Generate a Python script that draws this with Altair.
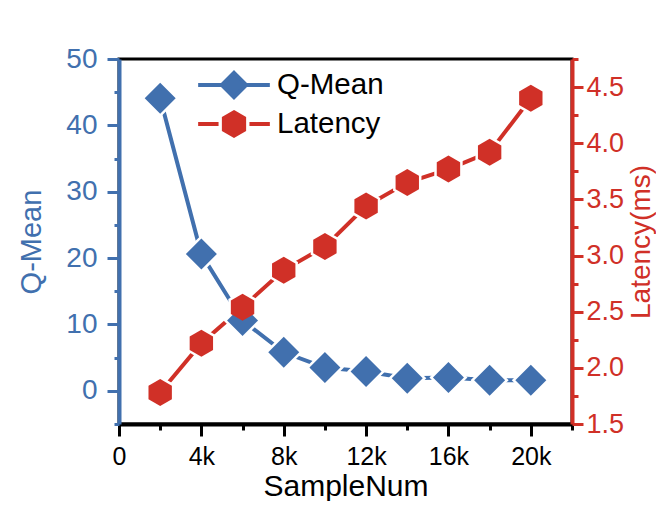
import altair as alt
import pandas as pd

# ---- data ----
sample_num = [2000, 4000, 6000, 8000, 10000, 12000, 14000, 16000, 18000, 20000]
q_mean = [44.1, 20.6, 10.6, 5.8, 3.5, 2.9, 1.9, 2.0, 1.6, 1.6]
latency = [1.78, 2.22, 2.54, 2.87, 3.08, 3.44, 3.65, 3.77, 3.92, 4.40]
series_names = ["Q-Mean", "Latency"]

x_major = [0, 4000, 8000, 12000, 16000, 20000]
x_major_labels = ["0", "4k", "8k", "12k", "16k", "20k"]
x_minor = [2000, 6000, 10000, 14000, 18000, 22000]
q_major = [0, 10, 20, 30, 40, 50]
q_minor = [-5, 5, 15, 25, 35, 45]
lat_major = [1.5, 2.0, 2.5, 3.0, 3.5, 4.0, 4.5]
lat_minor = [1.75, 2.25, 2.75, 3.25, 3.75, 4.25, 4.75]

x_domain = [0, 22000]
q_domain = [-5, 50]
lat_domain = [1.5, 4.75]

BLUE = "#4170AE"
RED = "#D03027"
FONT = "Liberation Sans"

DIAMOND = "M0,-1L1,0L0,1L-1,0Z"
HEX = "M0,-1L0.866,-0.5L0.866,0.5L0,1L-0.866,0.5L-0.866,-0.5Z"
Q_LEG = "M-2.39,0L2.39,0M0,-0.81L0.81,0L0,0.81L-0.81,0Z"
L_LEG = ("M-2.39,0L-1.03,0M1.03,0L2.39,0"
         "M0,-0.78L0.675,-0.39L0.675,0.39L0,0.78L-0.675,0.39L-0.675,-0.39Z")

df = pd.DataFrame({
    "SampleNum": sample_num,
    "QMean": q_mean,
    "Latency": latency,
    "q_series": series_names[0],
    "l_series": series_names[1],
})

label_map = "{" + ",".join(f"'{v}':'{l}'" for v, l in zip(x_major, x_major_labels)) + "}"

x_major_axis = alt.Axis(
    orient="bottom", values=x_major, labelExpr=f"{label_map}[''+datum.value]",
    tickSize=12, tickWidth=3, tickColor="black", domainColor="black", domainWidth=4,
    labelFont=FONT, labelFontSize=25, labelColor="black", labelPadding=8,
    labelFlush=False, labelOverlap=False, grid=False,
    title="SampleNum", titleFont=FONT, titleFontSize=30, titleFontWeight="normal",
    titleColor="black", titlePadding=2,
)
x_minor_axis = alt.Axis(
    orient="bottom", values=x_minor, tickSize=6, tickWidth=3, tickColor="black",
    labels=False, domain=False, grid=False, title=None,
)
q_major_axis = alt.Axis(
    orient="left", values=q_major, tickSize=12, tickWidth=3, tickColor=BLUE,
    domainColor=BLUE, domainWidth=4, labelColor=BLUE, labelFont=FONT, labelFontSize=28,
    labelPadding=10, grid=False, title="Q-Mean", titleColor=BLUE, titleFont=FONT,
    titleFontSize=29, titleFontWeight="normal", titlePadding=19,
)
q_minor_axis = alt.Axis(
    orient="left", values=q_minor, tickSize=5, tickWidth=3, tickColor=BLUE,
    labels=False, domain=False, grid=False, title=None,
)
l_major_axis = alt.Axis(
    orient="right", values=lat_major, format=".1f", tickSize=11, tickWidth=3, tickColor=RED,
    domainColor=RED, domainWidth=4, labelColor=RED, labelFont=FONT, labelFontSize=27,
    labelPadding=3, grid=False, title="Latency(ms)", titleColor=RED, titleFont=FONT,
    titleFontSize=28, titleFontWeight="normal", titlePadding=4,
    titleAngle=270, titleBaseline="top",
)
l_minor_axis = alt.Axis(
    orient="right", values=lat_minor, tickSize=6, tickWidth=3, tickColor=RED,
    labels=False, domain=False, grid=False, title=None,
)


def xenc(axis):
    return alt.X("SampleNum:Q", scale=alt.Scale(domain=x_domain, nice=False, zero=False), axis=axis)


def qy(axis):
    return alt.Y("QMean:Q", scale=alt.Scale(domain=q_domain, nice=False, zero=False), axis=axis)


def ly(axis):
    return alt.Y("Latency:Q", scale=alt.Scale(domain=lat_domain, nice=False, zero=False), axis=axis)


base = alt.Chart(df)

q_line = base.mark_line(color=BLUE, strokeWidth=4).encode(x=xenc(x_major_axis), y=qy(q_major_axis))
l_line = base.mark_line(color=RED, strokeWidth=4).encode(x=xenc(x_minor_axis), y=ly(l_major_axis))

q_halo = base.mark_point(shape=DIAMOND, size=961, filled=True, fill="white", stroke="white",
                         strokeWidth=5, opacity=1).encode(x=xenc(None), y=qy(q_minor_axis))
l_halo = base.mark_point(shape=HEX, size=729, filled=True, fill="white", stroke="white",
                         strokeWidth=5, opacity=1).encode(x=xenc(None), y=ly(l_minor_axis))

q_pt = base.mark_point(shape=DIAMOND, size=961, filled=True, opacity=1).encode(
    x=xenc(None), y=qy(None),
    color=alt.Color("q_series:N", scale=alt.Scale(domain=[series_names[0]], range=[BLUE]),
                    legend=alt.Legend(title=None, orient="none", legendX=98, legendY=9,
                                      symbolType=Q_LEG, symbolSize=900, symbolStrokeWidth=4,
                                      symbolStrokeColor=BLUE, symbolFillColor=BLUE,
                                      symbolOpacity=1, labelFont=FONT, labelFontSize=29.5,
                                      labelColor="black", labelOffset=26, padding=0)),
)
l_pt = base.mark_point(shape=HEX, size=729, filled=True, opacity=1).encode(
    x=xenc(None), y=ly(None),
    color=alt.Color("l_series:N", scale=alt.Scale(domain=[series_names[1]], range=[RED]),
                    legend=alt.Legend(title=None, orient="none", legendX=98, legendY=48,
                                      symbolType=L_LEG, symbolSize=900, symbolStrokeWidth=4,
                                      symbolStrokeColor=RED, symbolFillColor=RED,
                                      symbolOpacity=1, labelFont=FONT, labelFontSize=29.5,
                                      labelColor="black", labelOffset=26, padding=0)),
)

chart = alt.layer(q_line, l_line, q_halo, l_halo, q_pt, l_pt).resolve_scale(
    x="independent", y="independent", color="independent"
).properties(
    width=453, height=365,
    padding={"left": 111, "top": 51, "right": 84, "bottom": 77},
    autosize=alt.AutoSizeParams(type="none"),
    background="white",
).configure_view(stroke="black", strokeWidth=3)

chart.save("out.html", embed_options={"renderer": "svg", "actions": False})
